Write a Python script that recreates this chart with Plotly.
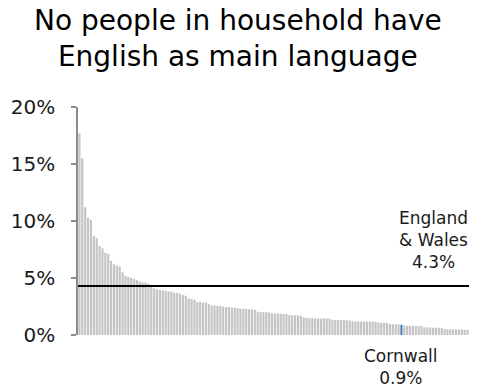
import plotly.graph_objects as go

# Share of households where no one has English as main language, by local authority (%)
shares = [
    17.7, 15.5, 11.2, 10.3, 10.1, 8.7, 8.5, 7.8, 7.6, 7.2,
    7.1, 6.5, 6.2, 6.1, 6.0, 5.5, 5.2, 5.1, 5.0, 4.9,
    4.8, 4.7, 4.6, 4.6, 4.5, 4.4, 4.1, 4.0, 3.95, 3.9,
    3.9, 3.8, 3.8, 3.7, 3.7, 3.6, 3.5, 3.45, 3.2, 3.15,
    3.1, 2.9, 2.9, 2.85, 2.85, 2.7, 2.6, 2.6, 2.55, 2.55,
    2.5, 2.45, 2.45, 2.4, 2.4, 2.35, 2.3, 2.3, 2.28, 2.25,
    2.25, 2.2, 2.05, 2.0, 2.0, 2.0, 1.98, 1.9, 1.9, 1.88,
    1.87, 1.86, 1.85, 1.75, 1.74, 1.73, 1.72, 1.7, 1.55, 1.5,
    1.48, 1.47, 1.46, 1.46, 1.45, 1.45, 1.44, 1.43, 1.33, 1.32,
    1.31, 1.3, 1.3, 1.29, 1.28, 1.2, 1.2, 1.19, 1.19, 1.18,
    1.18, 1.17, 1.17, 1.16, 1.08, 1.07, 1.06, 1.05, 0.96, 0.95,
    0.94, 0.93, 0.9, 0.82, 0.81, 0.8, 0.8, 0.79, 0.78, 0.78,
    0.67, 0.66, 0.65, 0.65, 0.64, 0.63, 0.62, 0.52, 0.51, 0.5,
    0.5, 0.49, 0.48, 0.47, 0.46, 0.45,
]
ranks = list(range(len(shares)))
cornwall_rank = 112
cornwall_share = 0.9
england_wales_share = 4.3
y_ticks = [0, 5, 10, 15, 20]
y_tick_labels = ["0%", "5%", "10%", "15%", "20%"]

shares[cornwall_rank] = cornwall_share
bar_colors = ["#4f81bd" if r == cornwall_rank else "#c4c4c4" for r in ranks]

FONT = "DejaVu Sans"

fig = go.Figure(
    go.Bar(
        x=ranks,
        y=shares,
        marker=dict(color=bar_colors, line=dict(width=0)),
        hoverinfo="skip",
    )
)

# England & Wales average line
fig.add_shape(
    type="line", xref="x", yref="y",
    x0=-0.5, x1=len(shares) - 0.5,
    y0=england_wales_share, y1=england_wales_share,
    line=dict(color="#000000", width=2),
)

fig.add_annotation(
    x=123, y=england_wales_share, xref="x", yref="y",
    text=f"England<br>& Wales<br>{england_wales_share}%",
    showarrow=False, yanchor="bottom", xanchor="center", yshift=12,
    font=dict(family=FONT, size=17, color="#1a1a1a"),
)
fig.add_annotation(
    x=cornwall_rank, y=0, xref="x", yref="y",
    text=f"Cornwall<br>{cornwall_share}%",
    showarrow=False, yanchor="top", xanchor="center", yshift=-9,
    font=dict(family=FONT, size=17, color="#1a1a1a"),
)

# Two-line heading, centred across the whole figure
fig.add_annotation(
    x=0.41, y=1.0, xref="paper", yref="paper",
    text="No people in household have<br>English as main language",
    showarrow=False, xanchor="center", yanchor="bottom", yshift=32,
    font=dict(family=FONT, size=28, color="#000000"),
)

fig.update_layout(
    width=477, height=390,
    margin=dict(l=78, r=8, t=107, b=55),
    paper_bgcolor="white", plot_bgcolor="white",
    bargap=0.25,
    showlegend=False,
    xaxis=dict(
        range=[-0.5, len(shares) - 0.5],
        showticklabels=False, showgrid=False, zeroline=False,
        showline=False, ticks="",
    ),
    yaxis=dict(
        range=[0, 20],
        tickvals=y_ticks, ticktext=y_tick_labels,
        showgrid=False, zeroline=False,
        showline=True, linecolor="#8c8c8c", linewidth=1.5,
        ticks="outside", ticklen=5, tickcolor="#8c8c8c", tickwidth=1.5,
        ticklabelstandoff=12,
        tickfont=dict(family=FONT, size=20, color="#1a1a1a"),
    ),
)

fig.write_html("out.html")
